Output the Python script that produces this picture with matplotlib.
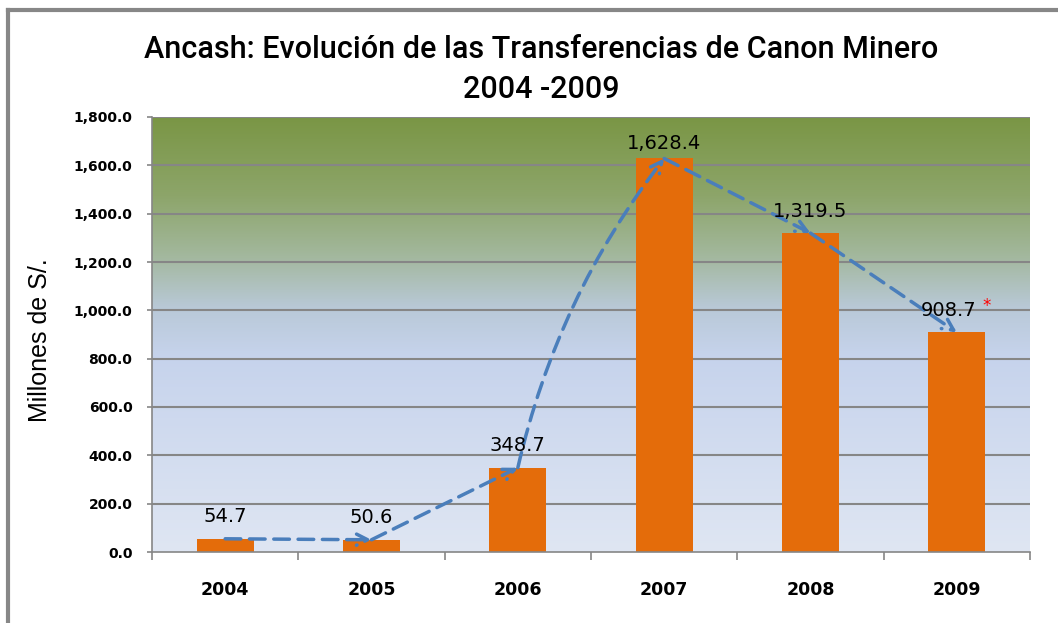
import numpy as np
import matplotlib
matplotlib.use('Agg')
import matplotlib.pyplot as plt
from matplotlib.colors import LinearSegmentedColormap
from matplotlib.lines import Line2D

years = ['2004', '2005', '2006', '2007', '2008', '2009']
values = [54.7, 50.6, 348.7, 1628.4, 1319.5, 908.7]
labels = ['54.7', '50.6', '348.7', '1,628.4', '1,319.5', '908.7']
yticks = [0, 200, 400, 600, 800, 1000, 1200, 1400, 1600, 1800]

orange = '#E46C0A'
blue = '#4A7EBB'
grid = '#868686'

fig = plt.figure(figsize=(10.58, 6.23), dpi=100)
ax = fig.add_axes([152/1058, 1 - 552/623, (1030-152)/1058, (552-117)/623])

x = np.arange(len(years))
ax.set_xlim(-0.5, len(years) - 0.5)
ax.set_ylim(0, 1800)

# background gradient (top green -> light blue -> pale)
cmap = LinearSegmentedColormap.from_list('bg', [
    (0.0, '#DFE6F3'), (0.45, '#C6D3EC'), (0.56, '#B9C9D8'),
    (0.68, '#A3B89E'), (0.82, '#8DA56A'), (1.0, '#7A9645')])
grad = np.linspace(0, 1, 256).reshape(-1, 1)
ax.imshow(grad, cmap=cmap, aspect='auto', origin='lower',
          extent=[-0.5, len(years) - 0.5, 0, 1800], zorder=0)

for t in yticks[1:]:
    ax.axhline(t, color=grid, lw=1.5, zorder=1)

ax.bar(x, values, width=0.39, color=orange, zorder=2)

# dashed arrows between bar tops (the 2006-2007 one is bent)
bends = [0, 0, -0.11, 0, 0]
for i in range(len(values) - 1):
    ax.annotate('', xy=(x[i + 1], values[i + 1]), xytext=(x[i], values[i]),
                arrowprops=dict(arrowstyle='->', mutation_scale=20, color=blue,
                                lw=2.5, linestyle=(0, (4.5, 2.5)),
                                connectionstyle=f'arc3,rad={bends[i]}',
                                shrinkA=0, shrinkB=0),
                zorder=3)

for i, (v, lab) in enumerate(zip(values, labels)):
    dx = -8 if i == len(values) - 1 else 0
    dy = 15 if i == 3 else 22
    ax.annotate(lab, (x[i], v), xytext=(dx, dy), textcoords='offset pixels',
                ha='center', va='center', fontsize=14, color='black', zorder=4)
ax.annotate('*', (x[-1], values[-1]), xytext=(30, 26), textcoords='offset pixels',
            ha='center', va='center', fontsize=12, color='red', zorder=4)

ax.set_yticks(yticks)
ax.set_yticklabels([f'{t:,.1f}' for t in yticks], fontsize=10, fontweight='bold')
ax.set_xticks(x)
ax.set_xticklabels(years, fontsize=12.5, fontweight='bold')
ax.set_xticks(np.arange(-0.5, len(years)), minor=True)
ax.tick_params(axis='x', which='major', length=0, pad=21)
ax.tick_params(axis='x', which='minor', length=6, color=grid, width=1.2)
ax.tick_params(axis='y', length=3.6, color=grid, width=1.2, pad=10.5)

for s in ['top', 'right']:
    ax.spines[s].set_visible(False)
for s in ['left', 'bottom']:
    ax.spines[s].set_color(grid)
    ax.spines[s].set_linewidth(1.2)

ax.set_ylabel('Millones de S/.', fontsize=18, family='Liberation Sans')
ax.yaxis.set_label_coords(-0.114, 0.487)

fig.text(541/1058, 1 - 50/623, 'Ancash: Evolución de las Transferencias de Canon Minero',
         ha='center', va='center', fontsize=22, family='Roboto', fontweight='medium')
fig.text(541/1058, 1 - 90/623, '2004 -2009', ha='center', va='center',
         fontsize=22, family='Roboto', fontweight='medium')

# outer frame lines (top and left)
fig.add_artist(Line2D([8/1058, 1], [1 - 10/623, 1 - 10/623], color='#878787', lw=3,
                      transform=fig.transFigure))
fig.add_artist(Line2D([8/1058, 8/1058], [0, 1 - 10/623], color='#878787', lw=3,
                      transform=fig.transFigure))

fig.savefig('out.png', dpi=100)
